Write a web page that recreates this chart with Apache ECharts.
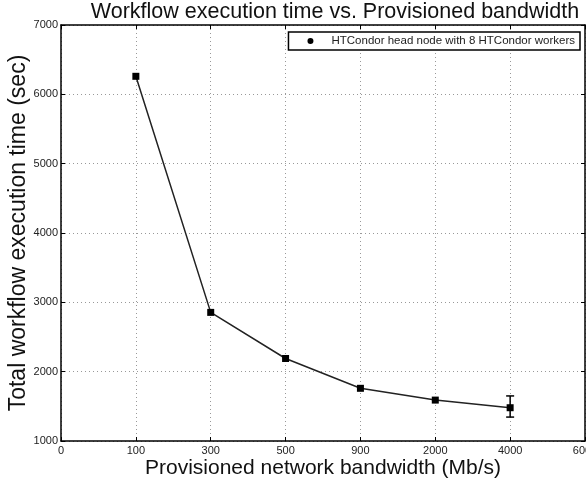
<!DOCTYPE html>
<html>
<head>
<meta charset="utf-8">
<script src="https://cdn.jsdelivr.net/npm/echarts@6/dist/echarts.min.js"></script>
<style>html,body{margin:0;padding:0;background:#fff}#c{width:586px;height:482px}</style>
</head>
<body>
<div id="c"></div>
<script>
const categories = ['0', '100', '300', '500', '900', '2000', '4000', '6000'];
const seriesName = 'HTCondor head node with 8 HTCondor workers';
const execTime = [null, 6260, 2855, 2190, 1760, 1590, 1480, null];
const errLow = [null, null, null, null, null, null, 1345, null];
const errHigh = [null, null, null, null, null, null, 1650, null];

const font = 'Liberation Sans, Arial, Helvetica, sans-serif';
const errData = [];
categories.forEach((c, i) => { if (errLow[i] != null) errData.push([i, errLow[i], errHigh[i]]); });

const chart = echarts.init(document.getElementById('c'), null, {renderer: 'canvas'});
const gridLine = {show: true, lineStyle: {color: '#999', type: [1, 3], width: 1}};
chart.setOption({
  animation: false,
  backgroundColor: '#fff',
  title: {
    text: 'Workflow execution time vs. Provisioned bandwidth',
    left: 330, textAlign: 'center', top: -4,
    textStyle: {fontFamily: font, fontSize: 21.5, fontWeight: 'normal', color: '#111'}
  },
  legend: {
    data: [{name: seriesName, icon: 'circle'}],
    right: 6, top: 32,
    itemWidth: 6, itemHeight: 6, itemGap: 0,
    padding: [3, 5, 3, 19],
    borderColor: '#000', borderWidth: 1.5,
    backgroundColor: '#fff',
    textStyle: {fontFamily: font, fontSize: 11.5, color: '#222', padding: [0, 0, 0, 13]}
  },
  grid: {left: 61, top: 25, width: 524, height: 416, containLabel: false, outerBoundsMode: 'none'},
  xAxis: [{
    type: 'category', data: categories, boundaryGap: false,
    name: 'Provisioned network bandwidth (Mb/s)', nameLocation: 'middle', nameGap: 17,
    nameMoveOverlap: false,
    nameTextStyle: {fontFamily: font, fontSize: 21, color: '#111'},
    axisLine: {show: true, lineStyle: {color: '#000', width: 1.5}},
    axisTick: {show: true, inside: true, length: 4, lineStyle: {color: '#000'}},
    axisLabel: {fontFamily: font, fontSize: 11, color: '#222', margin: 4, showMaxLabel: true},
    splitLine: gridLine
  }, {
    type: 'category', data: categories, boundaryGap: false, position: 'top',
    axisLine: {show: true, lineStyle: {color: '#000', width: 1.5}},
    axisTick: {show: true, inside: true, length: 4, lineStyle: {color: '#000'}},
    axisLabel: {show: false}, splitLine: {show: false}
  }],
  yAxis: [{
    type: 'value', min: 1000, max: 7000, interval: 1000,
    name: 'Total workflow execution time (sec)', nameLocation: 'middle', nameGap: 31,
    nameMoveOverlap: false,
    nameTextStyle: {fontFamily: font, fontSize: 23, color: '#111'},
    axisLine: {show: true, lineStyle: {color: '#000', width: 1.5}},
    axisTick: {show: true, inside: true, length: 4, lineStyle: {color: '#000'}},
    axisLabel: {fontFamily: font, fontSize: 11, color: '#222', margin: 3,
      formatter: function (v) { return String(v); }},
    splitLine: gridLine
  }, {
    type: 'value', min: 1000, max: 7000, interval: 1000, position: 'right',
    axisLine: {show: true, lineStyle: {color: '#000', width: 1.5}},
    axisTick: {show: true, inside: true, length: 4, lineStyle: {color: '#000'}},
    axisLabel: {show: false}, splitLine: {show: false}
  }],
  series: [{
    name: seriesName, type: 'line', data: execTime,
    symbol: 'rect', symbolSize: 7, connectNulls: false,
    itemStyle: {color: '#000'},
    lineStyle: {color: '#222', width: 1.5}
  }, {
    name: 'err', type: 'custom', data: errData, z: 5,
    renderItem: function (params, api) {
      const x = api.value(0);
      const lo = api.coord([x, api.value(1)]);
      const hi = api.coord([x, api.value(2)]);
      const hw = 4;
      const st = {stroke: '#000', lineWidth: 1.5};
      return {type: 'group', children: [
        {type: 'line', shape: {x1: lo[0], y1: lo[1], x2: hi[0], y2: hi[1]}, style: st},
        {type: 'line', shape: {x1: lo[0] - hw, y1: lo[1], x2: lo[0] + hw, y2: lo[1]}, style: st},
        {type: 'line', shape: {x1: hi[0] - hw, y1: hi[1], x2: hi[0] + hw, y2: hi[1]}, style: st}
      ]};
    }
  }]
});
</script>
</body>
</html>
